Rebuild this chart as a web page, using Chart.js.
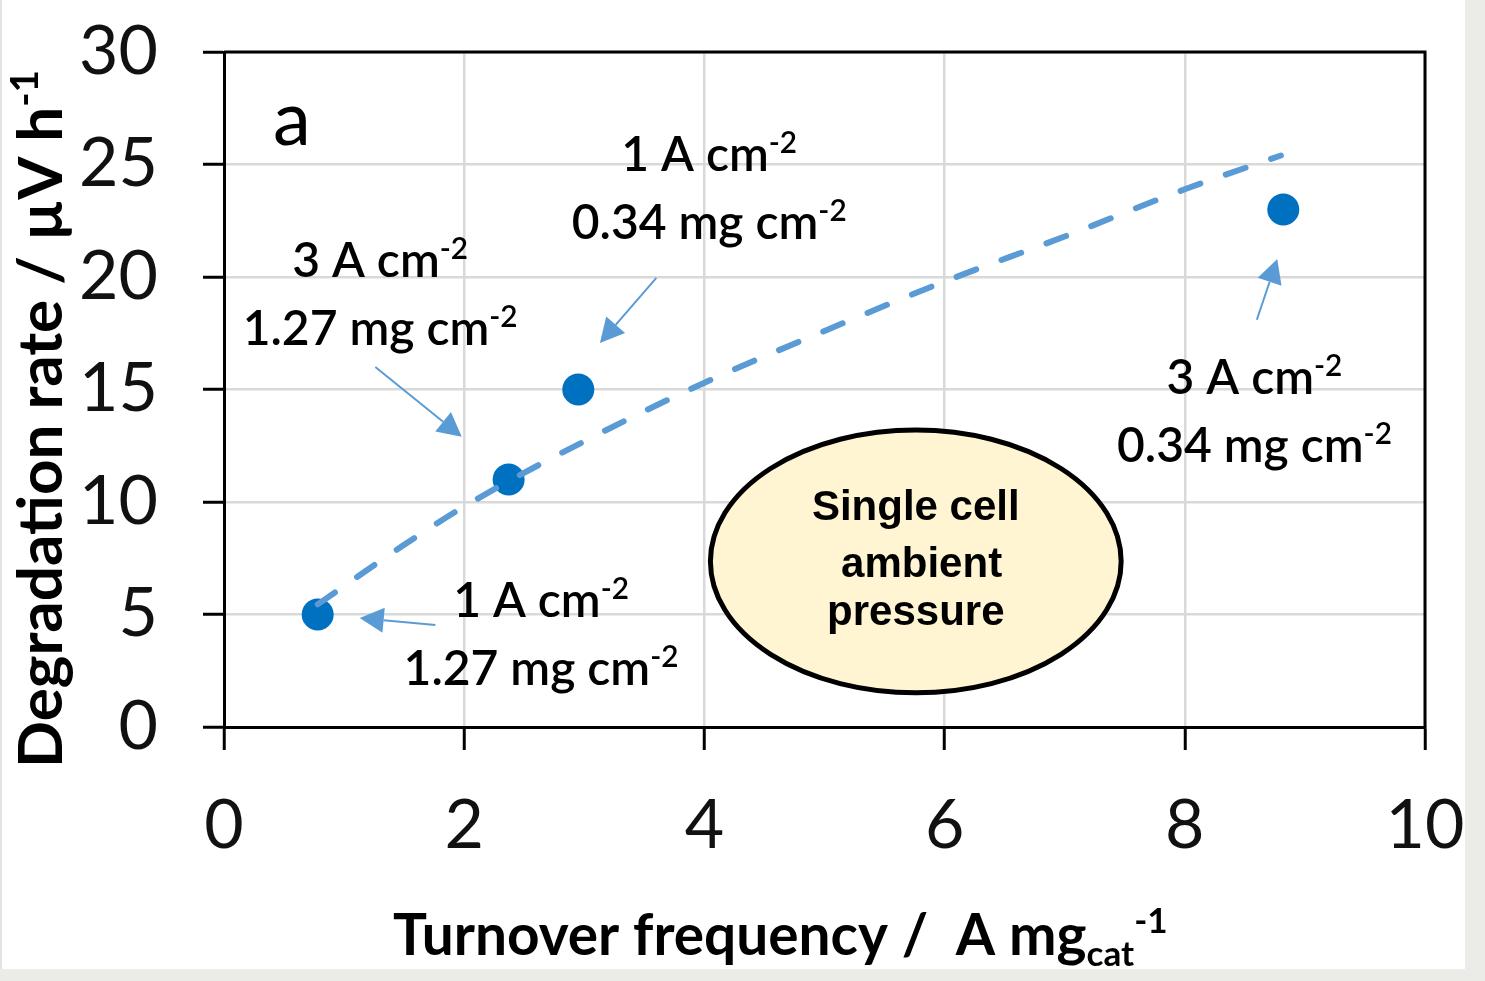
<!DOCTYPE html>
<html>
<head>
<meta charset="utf-8">
<script src="https://cdn.jsdelivr.net/npm/chart.js@4.4.1/dist/chart.umd.min.js"></script>
<style>
  html, body { margin: 0; padding: 0; background: #ebebe7; }
  #panel { position: absolute; left: 0; top: 0; width: 1463px; height: 969px; background: #fff; border-left: 2px solid #e2e2de; }
  #chart { position: absolute; left: 0; top: 0; }
</style>
</head>
<body>
<div id="panel"></div>
<canvas id="chart" width="1485" height="981"></canvas>
<script>
// measured points
const tof = [0.78, 2.37, 2.95, 8.82];
const degradation = [5, 11, 15, 23];

// dashed trend curve
const trendTof = [0.78, 1.5, 2, 3, 4, 5, 6, 7, 8, 8.8];
const trendDegradation = [5.45, 8.1, 9.8, 12.7, 15.3, 17.6, 19.8, 21.8, 23.9, 25.4];

const xTickValues = [0, 2, 4, 6, 8, 10];
const yTickValues = [0, 5, 10, 15, 20, 25, 30];

const noteLabels = [
  { x: 1.30, y: 20.0, lines: [["3 A cm", "-2"], ["1.27 mg cm", "-2"]] },
  { x: 4.04, y: 24.7, lines: [["1 A cm", "-2"], ["0.34 mg cm", "-2"]] },
  { x: 8.58, y: 14.8, lines: [["3 A cm", "-2"], ["0.34 mg cm", "-2"]] },
  { x: 2.64, y: 4.9, lines: [["1 A cm", "-2"], ["1.27 mg cm", "-2"]] }
];
const noteArrows = [
  { from: [1.26, 16.0], to: [1.98, 12.9] },
  { from: [3.60, 19.96], to: [3.13, 17.07] },
  { from: [8.60, 18.1], to: [8.77, 20.8] },
  { from: [1.76, 4.53], to: [1.13, 4.84] }
];
const bubble = { x: 5.76, y: 7.36, rx: 1.71, ry: 5.84, lines: ["Single cell", " ambient", "pressure"] };

const BLUE = '#0070c0';
const LIGHT_BLUE = '#5b9bd5';

// draw text made of pieces: [text, 'base' | 'sup' | 'sub']
const drawRich = (ctx, parts, x, y, size, weight, align) => {
  const fontFor = (kind) => `${weight} ${kind === 'base' ? size : size * 0.62}px Lato`;
  let total = 0;
  parts.forEach(([t, kind]) => { ctx.font = fontFor(kind); total += ctx.measureText(t).width; });
  let cx = align === 'center' ? x - total / 2 : x;
  ctx.textAlign = 'left';
  ctx.textBaseline = 'alphabetic';
  parts.forEach(([t, kind]) => {
    ctx.font = fontFor(kind);
    const dy = kind === 'sup' ? -size * 0.38 : kind === 'sub' ? size * 0.2 : 0;
    ctx.fillText(t, cx, y + dy);
    cx += ctx.measureText(t).width;
  });
  return total;
};

const richWidth = (ctx, parts, size, weight) => {
  let total = 0;
  parts.forEach(([t, kind]) => {
    ctx.font = `${weight} ${kind === 'base' ? size : size * 0.62}px Lato`;
    total += ctx.measureText(t).width;
  });
  return total;
};

const drawArrow = (ctx, x1, y1, x2, y2) => {
  const ang = Math.atan2(y2 - y1, x2 - x1);
  const hl = 24, hw = 12.5;
  const bx = x2 - hl * Math.cos(ang), by = y2 - hl * Math.sin(ang);
  ctx.beginPath();
  ctx.moveTo(x1, y1);
  ctx.lineTo(bx, by);
  ctx.stroke();
  ctx.beginPath();
  ctx.moveTo(x2, y2);
  ctx.lineTo(bx + hw * Math.sin(ang), by - hw * Math.cos(ang));
  ctx.lineTo(bx - hw * Math.sin(ang), by + hw * Math.cos(ang));
  ctx.closePath();
  ctx.fill();
};

const decor = {
  id: 'decor',
  beforeDatasetsDraw(chart) {
    const { ctx, chartArea: a, scales: { x, y } } = chart;
    ctx.save();
    // top and right frame
    ctx.strokeStyle = '#000';
    ctx.lineWidth = 3;
    ctx.beginPath();
    ctx.moveTo(a.left, a.top);
    ctx.lineTo(a.right, a.top);
    ctx.lineTo(a.right, a.bottom);
    ctx.stroke();
    // yellow bubble
    const cx = x.getPixelForValue(bubble.x), cy = y.getPixelForValue(bubble.y);
    const rx = x.getPixelForValue(bubble.x + bubble.rx) - cx;
    const ry = cy - y.getPixelForValue(bubble.y + bubble.ry);
    ctx.beginPath();
    ctx.ellipse(cx, cy, rx, ry, 0, 0, Math.PI * 2);
    ctx.fillStyle = '#fff5d2';
    ctx.fill();
    ctx.lineWidth = 5;
    ctx.stroke();
    ctx.fillStyle = '#000';
    ctx.font = 'bold 42px "Liberation Sans", Arial, sans-serif';
    ctx.textAlign = 'center';
    ctx.textBaseline = 'alphabetic';
    const offs = [-41.5, 15.2, 63.5];
    bubble.lines.forEach((t, i) => ctx.fillText(t, cx, cy + offs[i]));
    ctx.restore();
  },
  afterDatasetsDraw(chart) {
    const { ctx, scales: { x, y } } = chart;
    ctx.save();
    ctx.strokeStyle = LIGHT_BLUE;
    ctx.fillStyle = LIGHT_BLUE;
    ctx.lineWidth = 2;
    noteArrows.forEach(a => drawArrow(ctx,
      x.getPixelForValue(a.from[0]), y.getPixelForValue(a.from[1]),
      x.getPixelForValue(a.to[0]), y.getPixelForValue(a.to[1])));

    ctx.fillStyle = '#000';
    const ref = [["0.34 mg cm", "base"], ["-2", "sup"]];
    const size = 100 * 275 / richWidth(ctx, ref, 100, 600);
    noteLabels.forEach(n => {
      const px = x.getPixelForValue(n.x), py = y.getPixelForValue(n.y);
      n.lines.forEach(([base, sup], i) => {
        drawRich(ctx, [[base, 'base'], [sup, 'sup']], px, py + i * 68, size, 600, 'center');
      });
    });
    ctx.font = '400 76px Lato';
    ctx.textAlign = 'center';
    ctx.textBaseline = 'alphabetic';
    ctx.fillText('a', x.getPixelForValue(0.566), y.getPixelForValue(25.87));
    ctx.restore();
  },
  afterDraw(chart) {
    const { ctx } = chart;
    ctx.save();
    ctx.fillStyle = '#000';
    const xTitle = [["Turnover frequency /  A mg", 'base'], ["cat", 'sub'], ["-1", 'sup']];
    const xs = 100 * 775 / richWidth(ctx, xTitle, 100, 700);
    drawRich(ctx, xTitle, 393, 955, xs, 700, 'left');

    const yTitle = [["Degradation rate / \u00b5V h", 'base'], ["-1", 'sup']];
    const ysz = 100 * 698 / richWidth(ctx, yTitle, 100, 700);
    ctx.translate(62, 768);
    ctx.rotate(-Math.PI / 2);
    drawRich(ctx, yTitle, 0, 0, ysz, 700, 'left');
    ctx.restore();
  }
};

const tickFont = { family: 'Lato', size: 68, weight: '400' };

new Chart(document.getElementById('chart'), {
  type: 'scatter',
  data: {
    datasets: [
      {
        label: 'trend',
        data: trendTof.map((v, i) => ({ x: v, y: trendDegradation[i] })),
        showLine: true,
        borderColor: LIGHT_BLUE,
        borderWidth: 6,
        borderDash: [21, 27],
        borderCapStyle: 'round',
        cubicInterpolationMode: 'monotone',
        pointRadius: 0,
        order: 0
      },
      {
        label: 'cells',
        data: tof.map((v, i) => ({ x: v, y: degradation[i] })),
        backgroundColor: BLUE,
        borderColor: BLUE,
        pointRadius: 16,
        pointBorderWidth: 0,
        order: 1
      }
    ]
  },
  options: {
    responsive: false,
    animation: false,
    layout: { padding: { top: 52, right: 60, left: 0, bottom: 0 } },
    plugins: { legend: { display: false }, tooltip: { enabled: false } },
    scales: {
      x: {
        type: 'linear',
        min: 0,
        max: 10,
        afterBuildTicks: s => { s.ticks = xTickValues.map(v => ({ value: v })); },
        afterFit: s => { s.height = 254; s.paddingLeft = 0; s.paddingRight = 0; },
        ticks: { font: tickFont, color: '#111', padding: 35, autoSkip: false, maxRotation: 0 },
        grid: { color: '#d9d9d9', lineWidth: 2.5, tickColor: '#000', tickLength: 23, tickWidth: 3 },
        border: { color: '#000', width: 3 }
      },
      y: {
        type: 'linear',
        min: 0,
        max: 30,
        afterBuildTicks: s => { s.ticks = yTickValues.map(v => ({ value: v })); },
        afterFit: s => { s.width = 224; s.paddingTop = 0; s.paddingBottom = 0; },
        ticks: { font: tickFont, color: '#111', padding: 45, autoSkip: false },
        grid: { color: '#d9d9d9', lineWidth: 2.5, tickColor: '#000', tickLength: 21, tickWidth: 3 },
        border: { color: '#000', width: 3 }
      }
    }
  },
  plugins: [decor]
});
</script>
</body>
</html>
